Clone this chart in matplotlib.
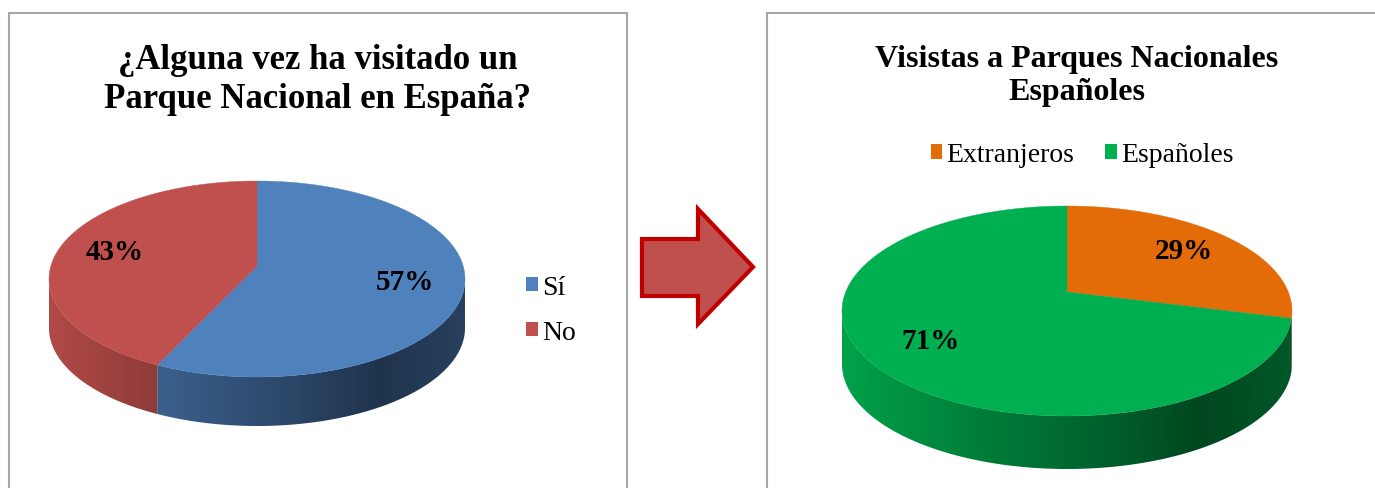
import numpy as np
import matplotlib
matplotlib.use('Agg')
import matplotlib.pyplot as plt
from matplotlib.patches import Polygon, Rectangle, Patch
from matplotlib.colors import to_rgb

plt.rcParams['font.family'] = ['Liberation Serif', 'DejaVu Serif']

# data
left_title = '¿Alguna vez ha visitado un\nParque Nacional en España?'
left_labels = ['Sí', 'No']
left_values = [57, 43]
left_colors = ['#4f81bd', '#c0504d']

right_title = 'Visistas a Parques Nacionales\nEspañoles'
right_labels = ['Extranjeros', 'Españoles']
right_values = [29, 71]
right_colors = ['#e36c09', '#00b050']

# side shading across the pie width (Excel-like lighting)
shade_t = [0.0, 0.28, 0.5, 0.8, 1.0]
shade_f = [0.92, 0.73, 0.6, 0.4, 0.5]


class Disk:
    """perspective view of a flat disk: center at (cx, vy), top/bottom extent
    given as distances above/below the center"""
    def __init__(self, cx, vy, width_half, up, down, depth):
        self.k = (down / up - 1) / (down / up + 1)
        self.b = up * (1 + self.k)
        self.rx = width_half * np.sqrt(1 - self.k ** 2)
        self.cx, self.vy, self.depth = cx, vy, depth
        self.width_half = width_half

    def pt(self, ang, r=1.0):
        a = np.radians(ang)
        u, v = r * np.cos(a), r * np.sin(a)
        den = 1 + self.k * v
        return self.cx + self.rx * u / den, self.vy - self.b * v / den


def front_parts(a1, a2, lo0, hi0):
    parts = []
    for k in (-1, 0, 1):
        lo, hi = lo0 + 360 * k, hi0 + 360 * k
        s, e = max(a1, lo), min(a2, hi)
        if e > s:
            parts.append((s, e))
    return parts


def pie3d(ax, values, colors, disk):
    total = float(sum(values))
    cum = 0.0
    x0, x1 = disk.cx - disk.width_half, disk.cx + disk.width_half
    # silhouette points of the side wall
    edge = np.degrees(np.arcsin(disk.k))
    lo0, hi0 = 180 + edge, 360 - edge
    _, ytop = disk.pt(90)
    _, ybot = disk.pt(270)
    tops = []
    for v, c in zip(values, colors):
        a_hi = 90 - cum / total * 360
        cum += v
        a_lo = 90 - cum / total * 360
        base = np.array(to_rgb(c))

        # side walls
        for s, e in front_parts(a_lo, a_hi, lo0, hi0):
            angs = np.linspace(s, e, 150)
            xs, ys = disk.pt(angs)
            px = np.concatenate([xs, xs[::-1]])
            py = np.concatenate([ys, ys[::-1] + disk.depth])
            poly = Polygon(np.column_stack([px, py]), closed=True,
                           facecolor='none', edgecolor='none')
            ax.add_patch(poly)
            t = np.linspace(0, 1, 400)
            f = np.interp(t, shade_t, shade_f)
            grad = (base[None, :] * f[:, None])[None, :, :]
            im = ax.imshow(grad, extent=(x0, x1, ybot + disk.depth + 2, ytop),
                           aspect='auto', interpolation='bilinear', zorder=2)
            im.set_clip_path(poly)

        # top wedge
        angs = np.linspace(a_lo, a_hi, 200)
        xs, ys = disk.pt(angs)
        verts = np.column_stack([np.concatenate([[disk.cx], xs]),
                                 np.concatenate([[disk.vy], ys])])
        tops.append(Polygon(verts, closed=True, facecolor=c, edgecolor=c,
                            linewidth=0.3, zorder=3))

        mid = (a_lo + a_hi) / 2
        lx, ly = disk.pt(mid, r=0.72)
        ax.text(lx, ly, f'{v}%', ha='center', va='center', fontsize=21,
                fontweight='bold', color='black', zorder=5)
    for p in tops:
        ax.add_patch(p)


fig = plt.figure(figsize=(13.75, 4.89), dpi=100)
ax = fig.add_axes([0, 0, 1, 1])

# chart frames
ax.add_patch(Rectangle((9, 14), 618, 500, facecolor='white', edgecolor='#a6a6a6',
                       linewidth=1.5, zorder=0))
ax.add_patch(Rectangle((767, 14), 640, 500, facecolor='white', edgecolor='#a6a6a6',
                       linewidth=1.5, zorder=0))

# left chart
ax.text(318, 80, left_title, ha='center', va='center', fontsize=25,
        fontweight='bold', linespacing=1.22)
pie3d(ax, left_values, left_colors, Disk(257, 267, 208, 85, 111, 49))
leg1 = ax.legend(handles=[Patch(facecolor=c, label=l) for c, l in zip(left_colors, left_labels)],
                 loc='center left', bbox_to_anchor=(526, 311), bbox_transform=ax.transData,
                 frameon=False, fontsize=20, handlelength=0.42, handleheight=0.42,
                 handletextpad=0.15, labelspacing=0.72, borderpad=0, borderaxespad=0)
ax.add_artist(leg1)

# arrow between charts
arrow_x = [642, 698, 698, 753, 698, 698, 642]
arrow_y = [240, 240, 210, 268, 325, 297, 297]
ax.add_patch(Polygon(np.column_stack([arrow_x, arrow_y]), closed=True,
                     facecolor='#c0504d', edgecolor='#c00000', linewidth=3, zorder=2))

# right chart
ax.text(1077, 76, right_title, ha='center', va='center', fontsize=23,
        fontweight='bold', linespacing=1.2)
pie3d(ax, right_values, right_colors, Disk(1067, 293, 225, 86, 124, 53))
ax.legend(handles=[Patch(facecolor=c, label=l) for c, l in zip(right_colors, right_labels)],
          loc='center', bbox_to_anchor=(1082, 156), bbox_transform=ax.transData,
          frameon=False, fontsize=20, ncol=2, handlelength=0.42, handleheight=0.42,
          handletextpad=0.15, columnspacing=1.1, borderpad=0, borderaxespad=0)

ax.set_xlim(0, 1375)
ax.set_ylim(489, 0)
ax.axis('off')

fig.savefig('out.png', dpi=100)
